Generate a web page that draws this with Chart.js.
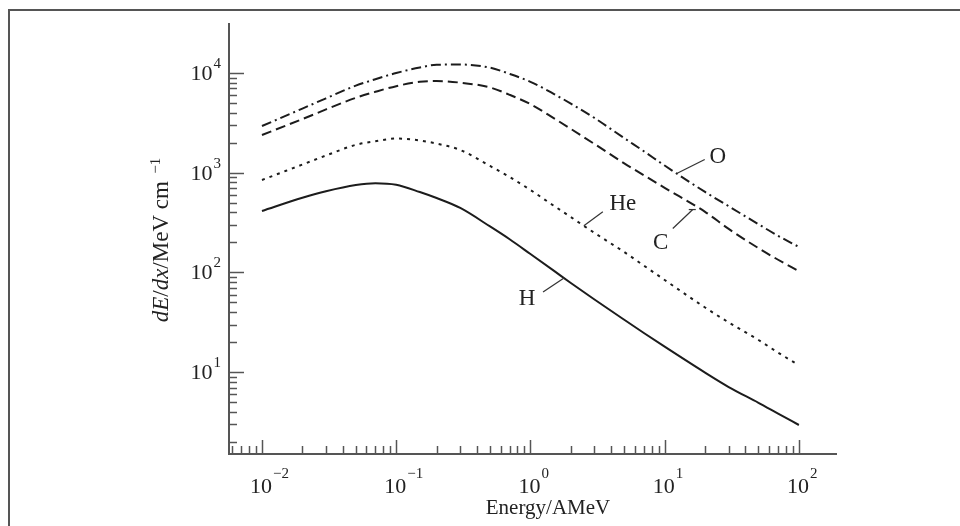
<!DOCTYPE html>
<html>
<head>
<meta charset="utf-8">
<script src="https://cdn.jsdelivr.net/npm/chart.js@4.4.0/dist/chart.umd.min.js"></script>
<style>
  html, body { margin: 0; padding: 0; background: #fff; overflow: hidden; }
  #wrap { position: relative; width: 960px; height: 526px; }
  #frame { position: absolute; left: 8px; top: 9px; width: 1000px; height: 600px; border: 2px solid #555; box-sizing: border-box; pointer-events: none; }
  canvas { position: absolute; left: 0; top: 0; }
</style>
</head>
<body>
<div id="wrap">
  <canvas id="chart" width="960" height="526"></canvas>
  <div id="frame"></div>
</div>
<script>
// Energy per nucleon (AMeV)
const energies = [0.01, 0.02, 0.03, 0.05, 0.07, 0.1, 0.15, 0.2, 0.3, 0.5, 0.7, 1, 1.5, 2, 3, 5, 7, 10, 20, 30, 50, 70, 100];

// dE/dx in MeV cm^-1
const hydrogen = [413, 560, 652, 753, 785, 757, 640, 557, 443, 289, 215, 153, 103.5, 78.3, 53.5, 33.5, 24.7, 18.0, 9.89, 7.09, 4.93, 3.84, 2.95];
const helium = [845, 1208, 1488, 1905, 2066, 2204, 2104, 1960, 1690, 1168, 906, 671, 464, 359, 249, 160, 117, 84, 44.5, 31.5, 21, 15.7, 11.7];
const carbon = [2390, 3450, 4310, 5640, 6480, 7380, 8160, 8300, 8000, 7160, 6040, 4870, 3510, 2750, 1940, 1240, 942, 705, 405, 273, 175, 134, 103];
const oxygen = [2940, 4395, 5575, 7460, 8660, 10000, 11350, 12090, 12170, 11300, 9800, 8160, 6150, 4930, 3540, 2220, 1640, 1180, 641, 461, 304, 233, 180];

// axis ranges and tick values
const xMin = 0.00568, xMax = 189;
const yMin = 1.51, yMax = 31000;
const xTickValues = logTicks(0.006, 100);
const yTickValues = logTicks(2, 10000);

const ink = '#1c1c1c';
const axisColor = '#555';
const textColor = '#222';
const serif = "'Liberation Serif', 'Times New Roman', serif";

function logTicks(from, to) {
    const out = [];
    for (let n = -4; n <= 5; n++) {
        for (let k = 1; k <= 9; k++) {
            const v = Number((k * Math.pow(10, n)).toPrecision(12));
            if (v >= from - 1e-12 && v <= to + 1e-9) out.push(v);
        }
    }
    return out;
}

function isDecade(v) {
    const l = Math.log10(v);
    return Math.abs(l - Math.round(l)) < 1e-9;
}

function exponentOf(v) {
    return String(Math.round(Math.log10(v))).replace('-', '−');
}

function toPoints(values) {
    return energies.map((e, i) => ({ x: e, y: values[i] }));
}

// value on a series at energy e, log-log interpolation
function valueAt(values, e) {
    const le = Math.log10(e);
    for (let i = 0; i < energies.length - 1; i++) {
        const a = Math.log10(energies[i]), b = Math.log10(energies[i + 1]);
        if (le >= a && le <= b) {
            const t = (le - a) / (b - a);
            return Math.pow(10, Math.log10(values[i]) + t * (Math.log10(values[i + 1]) - Math.log10(values[i])));
        }
    }
    return values[values.length - 1];
}

// curve labels with leader lines (offsets in px from the point on the curve)
const curveLabels = [
    { text: 'O', values: oxygen, e: 12.3, start: [0, 0], lead: [28, -14], pos: [41, -18] },
    { text: 'C', values: carbon, e: 16.2, start: [0, 5], lead: [-20, 24], pos: [-32, 36], stub: true },
    { text: 'He', values: helium, e: 2.5, start: [0, 0], lead: [19, -14], pos: [39, -24] },
    { text: 'H', values: hydrogen, e: 1.78, start: [0, 0], lead: [-21, 14], pos: [-37, 19] }
];

// tick marks point into the plot, long ones at each decade
const tickMarks = {
    id: 'tickMarks',
    afterDraw(chart) {
        const { ctx, chartArea, scales } = chart;
        ctx.save();
        ctx.strokeStyle = axisColor;
        ctx.lineWidth = 1.5;
        scales.x.ticks.forEach(t => {
            const px = Math.round(scales.x.getPixelForValue(t.value)) + 0.5;
            const len = isDecade(t.value) ? 14 : 8;
            ctx.beginPath();
            ctx.moveTo(px, chartArea.bottom);
            ctx.lineTo(px, chartArea.bottom - len);
            ctx.stroke();
        });
        scales.y.ticks.forEach(t => {
            const py = Math.round(scales.y.getPixelForValue(t.value)) + 0.5;
            const len = isDecade(t.value) ? 15 : 8;
            ctx.beginPath();
            ctx.moveTo(chartArea.left, py);
            ctx.lineTo(chartArea.left + len, py);
            ctx.stroke();
        });

        // decade labels as 10 with a raised exponent
        ctx.fillStyle = textColor;
        ctx.textBaseline = 'alphabetic';
        const base = '22px ' + serif, small = '15px ' + serif;
        scales.x.ticks.filter(t => isDecade(t.value)).forEach(t => {
            const px = scales.x.getPixelForValue(t.value);
            ctx.font = base;
            const w = ctx.measureText('10').width;
            ctx.textAlign = 'left';
            ctx.fillText('10', px - w / 2 - 1, chartArea.bottom + 39);
            ctx.font = small;
            ctx.fillText(exponentOf(t.value), px + w / 2, chartArea.bottom + 24);
        });
        scales.y.ticks.filter(t => isDecade(t.value)).forEach(t => {
            const py = scales.y.getPixelForValue(t.value);
            ctx.font = small;
            const ew = ctx.measureText(exponentOf(t.value)).width;
            ctx.textAlign = 'right';
            ctx.fillText(exponentOf(t.value), chartArea.left - 8, py - 5);
            ctx.font = base;
            ctx.fillText('10', chartArea.left - 9 - ew, py + 7);
        });
        ctx.restore();
    }
};

const annotations = {
    id: 'annotations',
    afterDraw(chart) {
        const { ctx, scales } = chart;
        ctx.save();

        // curve labels
        ctx.strokeStyle = '#333';
        ctx.lineWidth = 1.2;
        ctx.fillStyle = textColor;
        ctx.font = '23px ' + serif;
        ctx.textAlign = 'center';
        ctx.textBaseline = 'alphabetic';
        curveLabels.forEach(l => {
            const ax = scales.x.getPixelForValue(l.e);
            const ay = scales.y.getPixelForValue(valueAt(l.values, l.e));
            ctx.beginPath();
            ctx.moveTo(ax + l.start[0], ay + l.start[1]);
            ctx.lineTo(ax + l.lead[0], ay + l.lead[1]);
            ctx.stroke();
            if (l.stub) {
                ctx.beginPath();
                ctx.moveTo(ax - 4, ay + l.start[1]);
                ctx.lineTo(ax + 3, ay + l.start[1]);
                ctx.stroke();
            }
            ctx.fillText(l.text, ax + l.pos[0], ay + l.pos[1] + 8);
        });

        // x axis title
        ctx.font = '21px ' + serif;
        ctx.fillText('Energy/AMeV', 548, 514);

        // y axis title, mixed italic
        const parts = [
            { text: 'dE', font: 'italic 23px ' + serif, rise: 0 },
            { text: '/', font: '23px ' + serif, rise: 0 },
            { text: 'dx', font: 'italic 23px ' + serif, rise: 0 },
            { text: '/MeV cm', font: '23px ' + serif, rise: 0 },
            { text: '  ', font: '15px ' + serif, rise: 0 },
            { text: '−1', font: '15px ' + serif, rise: 8 }
        ];
        let total = 0;
        parts.forEach(p => { ctx.font = p.font; p.w = ctx.measureText(p.text).width; total += p.w; });
        ctx.translate(168, 240);
        ctx.rotate(-Math.PI / 2);
        ctx.textAlign = 'left';
        let x = -total / 2;
        parts.forEach(p => {
            ctx.font = p.font;
            ctx.fillText(p.text, x, -p.rise);
            x += p.w;
        });
        ctx.restore();
    }
};

const lineStyle = {
    borderColor: ink,
    borderWidth: 2,
    pointRadius: 0,
    fill: false,
    cubicInterpolationMode: 'monotone'
};

new Chart(document.getElementById('chart'), {
    type: 'line',
    data: {
        datasets: [
            { label: 'H', data: toPoints(hydrogen), ...lineStyle },
            { label: 'He', data: toPoints(helium), ...lineStyle, borderDash: [3, 5] },
            { label: 'C', data: toPoints(carbon), ...lineStyle, borderDash: [10, 5] },
            { label: 'O', data: toPoints(oxygen), ...lineStyle, borderDash: [10, 4, 2, 4] }
        ]
    },
    options: {
        responsive: false,
        devicePixelRatio: 1,
        animation: false,
        layout: { padding: { left: 0, top: 24, right: 124, bottom: 0 } },
        plugins: {
            legend: { display: false },
            tooltip: { enabled: false }
        },
        scales: {
            x: {
                type: 'logarithmic',
                min: xMin,
                max: xMax,
                afterBuildTicks: s => { s.ticks = xTickValues.map(v => ({ value: v, major: isDecade(v) })); },
                afterFit: s => { s.height = 72; },
                grid: { display: false, drawTicks: false },
                border: { display: true, color: axisColor, width: 2 },
                ticks: { autoSkip: false, maxRotation: 0, callback: () => '' }
            },
            y: {
                type: 'logarithmic',
                min: yMin,
                max: yMax,
                afterBuildTicks: s => { s.ticks = yTickValues.map(v => ({ value: v, major: isDecade(v) })); },
                afterFit: s => { s.width = 229; },
                grid: { display: false, drawTicks: false },
                border: { display: true, color: axisColor, width: 2 },
                ticks: { autoSkip: false, callback: () => '' }
            }
        }
    },
    plugins: [tickMarks, annotations]
});
</script>
</body>
</html>
